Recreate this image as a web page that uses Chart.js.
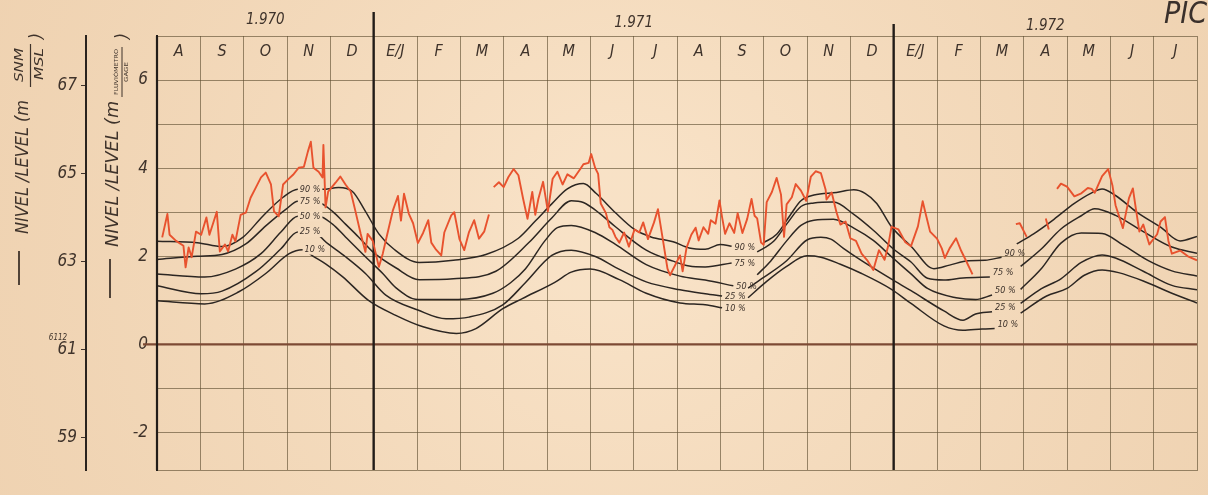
<!DOCTYPE html>
<html>
<head>
<meta charset="utf-8">
<style>
  html, body { margin: 0; padding: 0; background: #f6dfc2; }
  #wrap { width: 1208px; height: 495px; }
</style>
<script src="https://cdn.jsdelivr.net/npm/chart.js@4.4.1/dist/chart.umd.min.js"></script>
</head>
<body>
<div id="wrap"><canvas id="chart" width="1208" height="495"></canvas></div>
<script>
// Month columns, Aug 1970 .. Jul 1972 (x = months since 1 Aug 1970)
const months = ['A','S','O','N','D','E/J','F','M','A','M','J','J','A','S','O','N','D','E/J','F','M','A','M','J','J'];
const years = ['1.970', '1.971', '1.972'];
const yearStart = [0, 5, 17];
const yearEnd = [5, 17, 24];

// Gauge scale (m) and sea-level scale (m SNM/MSL); gauge zero = 61.12 m
const gaugeZero = 61.12;
const gaugeTicks = [-2, -1, 0, 1, 2, 3, 4, 5, 6, 7];
const gaugeLabels = [-2, 0, 2, 4, 6];
const mslLabels = [59, 61, 63, 65, 67];

// Observed daily stage (m), null = no record
const obsMonth = [0.12,0.24,0.29,0.44,0.61,0.66,0.73,0.8,0.9,1.02,1.14,1.21,1.38,1.45,1.57,1.64,1.74,1.81,1.93,2.05,2.16,2.28,2.4,2.51,2.63,2.7,2.81,2.91,3.02,3.14,3.27,3.39,3.48,3.55,3.61,3.73,3.82,3.84,3.89,3.95,4.12,4.23,4.35,4.47,4.58,4.7,4.81,4.86,4.98,5.12,5.21,5.28,5.44,5.56,5.63,5.7,5.81,5.91,6.02,6.14,6.26,6.33,6.44,6.56,6.63,6.79,6.86,6.98,7.09,7.2,7.32,7.43,7.55,7.66,
  null,
  7.77,7.89,8.0,8.11,8.23,8.34,8.45,8.55,8.66,8.73,8.8,8.91,9.02,9.13,9.24,9.36,9.47,9.62,9.78,9.84,9.96,10.02,10.11,10.18,10.24,10.36,10.44,10.51,10.58,10.67,10.78,10.89,11.02,11.13,11.22,11.33,11.47,11.56,11.67,11.78,11.84,12.07,12.13,12.22,12.33,12.43,12.5,12.61,12.72,12.78,12.89,12.98,13.04,13.11,13.21,13.32,13.4,13.51,13.62,13.72,13.79,13.85,13.94,14.0,
  14.07,14.19,14.3,14.4,14.47,14.53,14.65,14.74,14.86,14.98,15.09,15.2,15.32,15.43,15.45,15.57,15.68,15.77,15.89,16,16.13,16.26,16.39,16.53,16.66,16.79,16.87,16.95,17.11,17.27,17.4,17.56,17.67,17.73,17.84,18,18.11,18.18,18.29,18.44,18.56,18.67,18.82,
  null,
  19.82,19.91,20.07,
  null,
  20.51,20.58,
  null,
  20.77,20.86,21,21.17,21.33,21.48,21.57,21.64,21.81,21.95,22.05,22.12,22.29,22.43,22.52,22.6,22.67,22.76,22.9,23.08,23.16,23.26,23.34,23.42,23.61,23.79,24];
const obsLevel = [2.43,2.96,2.49,2.35,2.24,1.75,2.2,1.98,2.56,2.49,2.88,2.49,3.01,2.11,2.27,2.11,2.49,2.34,2.94,2.99,3.33,3.56,3.79,3.9,3.63,3.02,2.91,3.63,3.74,3.85,4.01,4.03,4.37,4.6,4.01,3.92,3.79,4.53,3.11,3.47,3.67,3.81,3.63,3.47,3.02,2.51,2.1,2.51,2.35,1.76,2.06,2.36,3.03,3.37,2.81,3.42,2.97,2.75,2.3,2.53,2.82,2.31,2.15,2.02,2.54,2.93,3.0,2.39,2.14,2.55,2.82,2.4,2.56,2.95,
  null,
  3.57,3.68,3.57,3.8,3.98,3.84,3.3,2.85,3.46,2.94,3.3,3.69,3.02,3.76,3.92,3.63,3.86,3.77,4.0,4.09,4.12,4.32,4.01,3.87,3.2,2.98,2.66,2.6,2.44,2.31,2.54,2.22,2.61,2.54,2.77,2.39,2.77,3.07,2.4,1.72,1.57,2.02,1.66,2.19,2.49,2.65,2.36,2.66,2.51,2.82,2.74,3.27,2.89,2.51,2.75,2.53,2.98,2.53,2.85,3.3,2.92,2.86,2.31,2.26,
  3.23,3.46,3.78,3.4,2.44,3.18,3.34,3.64,3.49,3.26,3.81,3.93,3.89,3.51,3.29,3.45,3.0,2.72,2.79,2.41,2.35,2.06,1.91,1.69,2.14,1.92,2.22,2.67,2.61,2.32,2.23,2.68,3.25,3.0,2.56,2.4,2.18,1.96,2.18,2.41,2.12,1.9,1.59,
  null,
  2.73,2.75,2.44,
  null,
  2.86,2.61,
  null,
  3.53,3.65,3.58,3.36,3.43,3.55,3.53,3.44,3.82,3.98,3.6,3.16,2.64,3.32,3.54,3.01,2.56,2.72,2.27,2.5,2.79,2.89,2.35,2.06,2.13,2.0,1.91];

// Exceedance curves (m), one run per hydrological period, null between runs
const p90Month = [0,0.93,1.5,1.98,2.44,2.91,3.25,3.82,4.19,4.51,4.81,5.12,5.47,6.05,6.84,7.59,8.34,8.73,9.11,9.47,9.84,10.13,10.58,11.02,11.4,11.91,12.28,12.65,13,13.26,
  null, 14,14.3,14.63,14.86,15.16,15.68,16.08,16.34,16.61,16.95,17.4,17.93,18.29,18.73,19.11,19.49,
  null, 19.84,20.23,20.7,21.17,21.57,21.81,22.12,22.6,23.16,23.61,24];
const p90Level = [2.34,2.31,2.22,2.43,2.91,3.34,3.52,3.52,3.56,3.47,3.02,2.51,2.16,1.86,1.91,2.04,2.41,2.8,3.19,3.53,3.65,3.43,2.99,2.61,2.44,2.33,2.19,2.16,2.27,2.23,
  null, 2.31,2.5,2.96,3.26,3.39,3.45,3.51,3.43,3.2,2.67,2.23,1.72,1.8,1.9,1.91,1.98,
  null, 2.28,2.51,2.84,3.2,3.44,3.53,3.38,3.01,2.66,2.35,2.45];

const p75Month = [0,0.93,1.5,2.05,2.51,2.98,3.25,3.73,4.05,4.35,4.65,4.98,5.51,6.05,6.84,7.82,8.57,9.11,9.56,9.84,10.22,10.58,11.29,11.91,12.28,12.65,13.26,
  null, 13.85,14.23,14.53,14.86,15.16,15.61,16.08,16.53,17,17.4,17.78,18.16,18.6,19.22,
  null, 19.93,20.4,20.86,21.33,21.64,22.12,22.76,23.42,24];
const p75Level = [1.93,2.0,2.04,2.28,2.69,3.07,3.25,3.22,3.02,2.73,2.44,2.1,1.74,1.47,1.49,1.66,2.3,2.87,3.26,3.22,2.97,2.67,2.14,1.89,1.78,1.76,1.85,
  null, 2.1,2.34,2.73,3.13,3.21,3.23,2.95,2.59,2.16,1.87,1.5,1.46,1.51,1.53,
  null, 1.77,2.16,2.62,2.92,3.08,2.93,2.56,2.21,2.07];

const p50Month = [0,1.1,1.81,2.4,2.86,3.25,3.73,4.05,4.35,4.81,5.21,5.51,6.02,6.95,7.75,8.16,8.5,8.95,9.24,9.56,10.13,10.58,11.29,12.07,12.65,13.3,
  null, 13.85,14.16,14.53,14.86,15.16,15.61,16.08,16.53,16.95,17.4,17.78,18.44,18.89,19.27,
  null, 19.93,20.4,20.86,21.33,21.81,22.29,22.9,23.42,24];
const p50Level = [1.6,1.53,1.71,2.06,2.55,2.91,2.91,2.73,2.44,1.99,1.61,1.29,1.02,1.02,1.16,1.4,1.71,2.35,2.65,2.7,2.53,2.27,1.81,1.55,1.46,1.33,
  null, 1.58,1.89,2.35,2.7,2.82,2.84,2.64,2.36,1.99,1.6,1.27,1.06,1.02,1.12,
  null, 1.25,1.71,2.3,2.53,2.52,2.26,1.89,1.67,1.55];

const p25Month = [0,1.02,1.5,2.28,2.86,3.25,3.66,3.95,4.35,4.81,5.28,6.02,6.67,7.2,7.98,8.5,9.11,9.56,10.13,10.58,11.29,12.07,12.65,13.04,
  null, 13.64,14,14.53,15,15.32,15.55,15.84,16.26,16.95,17.4,18.16,18.6,18.89,19.27,
  null, 19.93,20.4,20.86,21.33,21.81,22.12,22.76,23.42,24];
const p25Level = [1.33,1.15,1.21,1.65,2.17,2.55,2.51,2.28,1.99,1.61,1.12,0.78,0.58,0.62,0.9,1.4,2.02,2.14,1.99,1.75,1.42,1.24,1.15,1.1,
  null, 1.28,1.52,1.9,2.37,2.43,2.39,2.18,1.9,1.48,1.22,0.76,0.55,0.69,0.74,
  null, 0.93,1.26,1.49,1.86,2.03,1.96,1.66,1.34,1.24];

const p10Month = [0,1.1,1.88,2.51,3.05,3.36,3.59,3.89,4.28,4.88,5.51,6.14,6.91,7.36,7.98,8.43,9.18,9.56,10.0,10.67,11.29,12.07,12.65,13.04,
  null, 13.64,14.07,14.53,15,15.32,15.77,16.26,16.95,17.4,18.16,18.6,19.04,19.33,
  null, 19.93,20.53,21,21.4,21.81,22.19,22.76,23.42,24];
const p10Level = [0.99,0.92,1.19,1.61,2.06,2.15,2.01,1.83,1.54,1.0,0.66,0.4,0.25,0.36,0.81,1.04,1.41,1.64,1.71,1.47,1.16,0.94,0.9,0.83,
  null, 1.06,1.43,1.77,2.01,1.98,1.82,1.61,1.25,0.93,0.42,0.32,0.35,0.36,
  null, 0.71,1.1,1.27,1.57,1.69,1.63,1.44,1.16,0.94];

const pctNames = ['90 %', '75 %', '50 %', '25 %', '10 %'];
const pctMonths = [p90Month, p75Month, p50Month, p25Month, p10Month];
const pctLevels = [p90Level, p75Level, p50Level, p25Level, p10Level];
const peakLabelIdx = [6, 6, 5, 5, 5];

// ---- styling ----
const PAPER = '#f5dcbf';
const INK = '#3f332b';
const GRID = 'rgba(92,76,46,0.62)';
const RED = '#e8522e';
const CURVE = '#2c2622';
const FONT = "'DejaVu Sans Condensed', 'DejaVu Sans', sans-serif";

function toPoints(xs, ys) {
  return xs.map((m, i) => {
    if (m === null || ys[i] === null) {
      let j = i + 1;
      while (j < xs.length && xs[j] === null) j++;
      return { x: j < xs.length ? xs[j] : xs[i - 1], y: null };
    }
    return { x: m, y: ys[i] };
  });
}

const datasets = [{
  label: 'observed',
  data: toPoints(obsMonth, obsLevel),
  borderColor: RED,
  borderWidth: 1.9,
  pointRadius: 0,
  tension: 0,
  spanGaps: false,
  borderJoinStyle: 'round',
  order: 1
}];
pctNames.forEach((name, k) => {
  datasets.push({
    label: name,
    data: toPoints(pctMonths[k], pctLevels[k]),
    borderColor: CURVE,
    borderWidth: 1.5,
    pointRadius: 0,
    cubicInterpolationMode: 'monotone',
    spanGaps: false,
    order: 2
  });
});

function vText(ctx, str, cx, cy, font, fitLen) {
  ctx.save();
  ctx.translate(cx, cy);
  ctx.rotate(-Math.PI / 2);
  ctx.font = font;
  ctx.textAlign = 'center';
  ctx.textBaseline = 'middle';
  if (fitLen) {
    const w = ctx.measureText(str).width;
    ctx.scale(fitLen / w, 1);
  }
  ctx.fillText(str, 0, 0);
  ctx.restore();
}

function line(ctx, x1, y1, x2, y2, w, c) {
  ctx.save();
  ctx.strokeStyle = c; ctx.lineWidth = w;
  ctx.beginPath(); ctx.moveTo(x1, y1); ctx.lineTo(x2, y2); ctx.stroke();
  ctx.restore();
}

const decor = {
  id: 'decor',
  beforeDraw(chart) {
    const ctx = chart.ctx;
    ctx.save();
    ctx.fillStyle = PAPER;
    ctx.fillRect(0, 0, chart.width, chart.height);
    const g = ctx.createRadialGradient(620, 230, 80, 620, 260, 760);
    g.addColorStop(0, 'rgba(255,238,214,0.3)');
    g.addColorStop(1, 'rgba(214,170,120,0.22)');
    ctx.fillStyle = g;
    ctx.fillRect(0, 0, chart.width, chart.height);
    ctx.restore();
  },
  beforeDatasetsDraw(chart) {
    const ctx = chart.ctx, a = chart.chartArea, x = chart.scales.x, y = chart.scales.y;
    const y0 = y.getPixelForValue(0);
    line(ctx, a.left - 14, y0, a.right, y0, 2.2, '#7d4a34');
    // year dividers
    [1, 2].forEach((k, i) => {
      const xp = x.getPixelForValue(yearStart[k]);
      line(ctx, xp, a.top - (i === 0 ? 24 : 12), xp, a.bottom, 2.4, '#221c18');
    });
  },
  afterDatasetsDraw(chart) {
    const ctx = chart.ctx, a = chart.chartArea;
    ctx.save();
    ctx.font = "italic 9px " + FONT;
    ctx.textBaseline = 'middle';
    ctx.textAlign = 'left';
    for (let k = 0; k < pctNames.length; k++) {
      const meta = chart.getDatasetMeta(k + 1);
      const pts = meta.data;
      const ys = pctLevels[k];
      // label at the peak of the first period (drawn over the curve)
      const pk = pts[peakLabelIdx[k]];
      const w = ctx.measureText(pctNames[k]).width;
      ctx.fillStyle = PAPER;
      ctx.fillRect(pk.x, pk.y - 5, w + 4, 10);
      ctx.fillStyle = '#3b3029';
      ctx.fillText(pctNames[k], pk.x + 2, pk.y);
      // labels at the end of each period except the last
      let run = 0;
      for (let i = 0; i < ys.length; i++) {
        if (ys[i] !== null && (i + 1 < ys.length) && ys[i + 1] === null) {
          const p = pts[i];
          const dy = run === 0 ? 1 : -4;
          ctx.fillText(pctNames[k], p.x + 3, p.y + dy);
          run++;
        }
      }
    }
    ctx.restore();
    // heavy left border
    line(ctx, a.left, a.top, a.left, a.bottom, 2.2, '#231d19');
  },
  afterDraw(chart) {
    const ctx = chart.ctx, a = chart.chartArea, x = chart.scales.x, y2 = chart.scales.y2;
    ctx.save();
    ctx.fillStyle = INK;
    ctx.textAlign = 'center';
    ctx.textBaseline = 'middle';
    ctx.font = "italic 16px " + FONT;
    months.forEach((m, i) => ctx.fillText(m, x.getPixelForValue(i + 0.5), a.top + 16));
    ctx.font = "italic 15px " + FONT;
    years.forEach((t, i) => ctx.fillText(t, x.getPixelForValue((yearStart[i] + yearEnd[i]) / 2), a.top - 16 + i * 3));

    // outer scale title: — NIVEL /LEVEL (m SNM/MSL)
    line(ctx, 19, 285, 19, 251, 1.8, INK);
    vText(ctx, 'NIVEL /LEVEL (m', 23, 167, "italic 18px " + FONT, 134);
    vText(ctx, 'SNM', 20, 65, "italic 13px " + FONT, 34);
    line(ctx, 30.5, 87, 30.5, 44, 1.2, INK);
    vText(ctx, 'MSL', 40, 64, "italic 13px " + FONT, 32);
    vText(ctx, ')', 37, 36, "italic 18px " + FONT);

    // inner scale title: NIVEL /LEVEL (m FLUVIÓMETRO/GAGE)
    line(ctx, 110, 298, 110, 259, 1.8, INK);
    vText(ctx, 'NIVEL /LEVEL (m', 113, 174, "italic 18px " + FONT, 146);
    vText(ctx, 'FLUVIÓMETRO', 117, 72, "5.5px " + FONT, 46);
    line(ctx, 122, 97, 122, 47, 1, INK);
    vText(ctx, 'GAGE', 127, 72, "5.5px " + FONT, 20);
    vText(ctx, ')', 123, 36, "italic 18px " + FONT);

    // gauge zero elevation note
    ctx.font = "italic 8px " + FONT;
    ctx.fillText('6112', 58, y2.getPixelForValue(61) - 12);

    ctx.font = "italic 30px " + FONT;
    ctx.textAlign = 'left';
    ctx.textBaseline = 'alphabetic';
    ctx.fillStyle = '#3a302b';
    ctx.fillText('PIC', 1164, 23);
    ctx.restore();
  }
};

const tickFont = { family: FONT, style: 'italic', size: 17 };

new Chart(document.getElementById('chart'), {
  type: 'line',
  data: { datasets },
  options: {
    responsive: false,
    animation: false,
    devicePixelRatio: 1,
    layout: { padding: { top: 36, right: 11, bottom: 25, left: 0 } },
    plugins: { legend: { display: false }, tooltip: { enabled: false } },
    elements: { point: { radius: 0 } },
    scales: {
      x: {
        type: 'linear', min: 0, max: 24,
        ticks: { display: false, stepSize: 1 },
        grid: { color: GRID, lineWidth: 1, drawTicks: false },
        border: { display: true, color: GRID, width: 1 },
        afterFit: s => { s.height = 0; }
      },
      y: {
        position: 'left', weight: 0,
        min: -2.85, max: 7,
        afterBuildTicks: s => { s.ticks = gaugeTicks.map(v => ({ value: v })); },
        ticks: {
          callback: v => gaugeLabels.includes(v) ? String(v) : '',
          font: tickFont, color: INK, padding: 9
        },
        grid: { color: GRID, lineWidth: 1, drawTicks: false },
        border: { display: true, color: '#231d19', width: 2 },
        afterFit: s => { s.width = 71; }
      },
      y2: {
        position: 'left', weight: 1,
        min: -2.85 + gaugeZero, max: 7 + gaugeZero,
        afterBuildTicks: s => { s.ticks = mslLabels.map(v => ({ value: v })); },
        ticks: { font: tickFont, color: INK, padding: 4 },
        grid: { drawOnChartArea: false, drawTicks: true, tickLength: 5, color: INK, lineWidth: 1 },
        border: { display: true, color: '#2a231e', width: 2 },
        afterFit: s => { s.width = 86; }
      }
    }
  },
  plugins: [decor]
});
</script>
</body>
</html>
